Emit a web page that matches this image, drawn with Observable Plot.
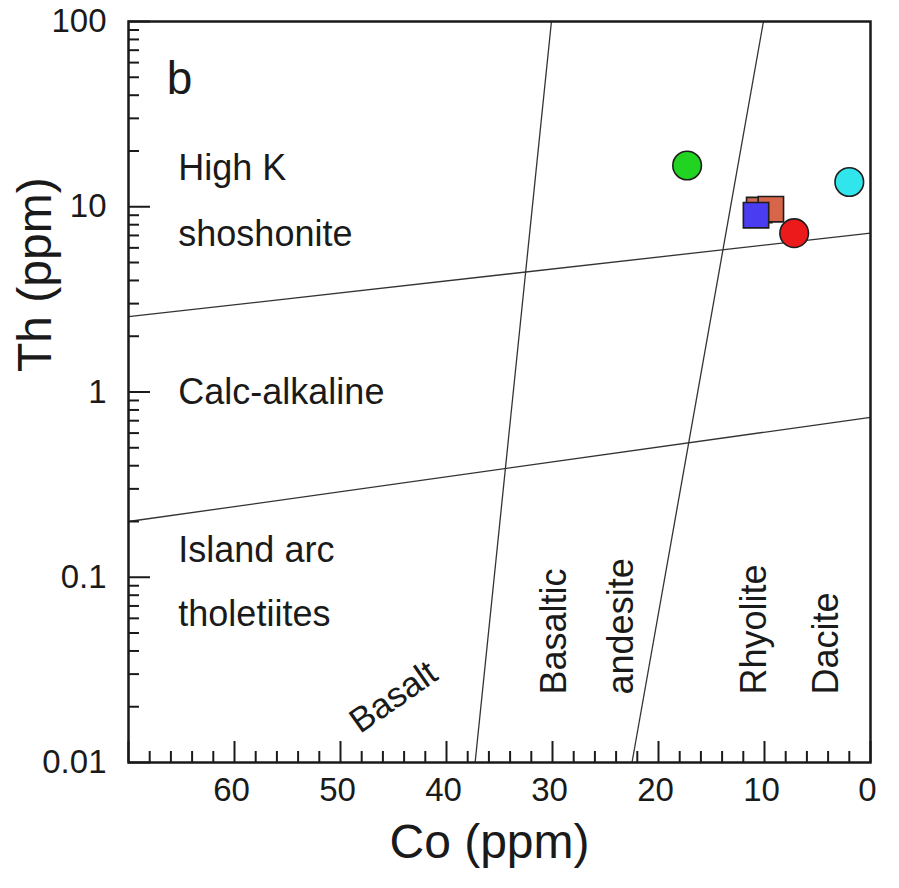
<!DOCTYPE html>
<html><head><meta charset="utf-8">
<script src="https://cdn.jsdelivr.net/npm/d3@7"></script>
<script src="https://cdn.jsdelivr.net/npm/@observablehq/plot@0.6"></script>
<style>body{margin:0;background:#fff;}</style>
</head><body><div id="chart"></div>
<script>
// Samples (Co ppm, Th ppm)
const sampleCo = [17.3, 2.0, 10.5, 9.4, 10.8, 7.2];
const sampleTh = [16.7, 13.6, 9.6, 9.7, 9.0, 7.2];
const sampleSymbol = ["circle", "circle", "square", "square", "square", "circle"];
const sampleFill = ["#22d422", "#30e6ec", "#cf6a52", "#d6654a", "#4a3cf0", "#ec1a1a"];

// Field boundaries
const boundaryCoStart = [70, 70, 30.1, 10.1];
const boundaryThStart = [2.55, 0.2, 100, 100];
const boundaryCoEnd = [0, 0, 37.3, 22.5];
const boundaryThEnd = [7.2, 0.73, 0.01, 0.01];

// Field labels
const fieldLabels = ["High K", "shoshonite", "Calc-alkaline", "Island arc", "tholetiites"];
const fieldCo = [65.3, 65.3, 65.3, 65.3, 65.3];
const fieldTh = [16.0, 7.06, 1.0, 0.14, 0.063];

const panelLabel = ["b"];
const panelCo = [66.4];
const panelTh = [48.6];

const rockLabels = ["Basaltic", "andesite", "Rhyolite", "Dacite"];
const rockCo = [29.8, 23.5, 10.9, 4.2];
const rockTh = [0.0233, 0.0233, 0.0233, 0.0233];

const basaltLabel = ["Basalt"];
const basaltCo = [45.0];
const basaltTh = [0.0225];

// Ticks
const xMajorTicks = [0, 10, 20, 30, 40, 50, 60, 70];
const xMinorTicks = [2, 4, 6, 8, 12, 14, 16, 18, 22, 24, 26, 28, 32, 34, 36, 38, 42, 44, 46, 48, 52, 54, 56, 58, 62, 64, 66, 68];
const xLabelValues = [0, 10, 20, 30, 40, 50, 60];
const xTickLabels = ["0", "10", "20", "30", "40", "50", "60"];
const yMajorTicks = [0.01, 0.1, 1, 10, 100];
const yMinorTicks = [0.02, 0.03, 0.04, 0.05, 0.06, 0.07, 0.08, 0.09,
  0.2, 0.3, 0.4, 0.5, 0.6, 0.7, 0.8, 0.9,
  2, 3, 4, 5, 6, 7, 8, 9,
  20, 30, 40, 50, 60, 70, 80, 90];
const yTickLabels = ["0.01", "0.1", "1", "10", "100"];

const xTitle = "Co (ppm)";
const yTitle = "Th (ppm)";

const samples = sampleCo.map((c, i) => ({co: c, th: sampleTh[i], symbol: sampleSymbol[i], fill: sampleFill[i]}));
const boundaries = boundaryCoStart.map((c, i) => ({x1: c, y1: boundaryThStart[i], x2: boundaryCoEnd[i], y2: boundaryThEnd[i]}));

const W = 899, H = 888, ML = 128, MR = 29, MT = 21, MB = 126;
const innerW = W - ML - MR, innerH = H - MT - MB;
const font = "'Liberation Sans', Arial, sans-serif";
const ink = "#1a1a1a";

const chart = Plot.plot({
  width: W, height: H,
  marginLeft: ML, marginRight: MR, marginTop: MT, marginBottom: MB,
  style: {fontFamily: font, background: "#fff"},
  x: {domain: [70, 0], axis: null},
  y: {type: "log", domain: [0.01, 100], axis: null},
  color: {type: "identity"},
  symbol: {type: "identity"},
  marks: [
    Plot.link(boundaries, {x1: "x1", y1: "y1", x2: "x2", y2: "y2", stroke: "#333", strokeWidth: 1.3}),
    // ticks (inward)
    Plot.tickY(yMajorTicks, {y: d => d, insetRight: innerW - 22, stroke: ink, strokeWidth: 2}),
    Plot.tickY(yMinorTicks, {y: d => d, insetRight: innerW - 11, stroke: ink, strokeWidth: 2}),
    Plot.tickX(xMajorTicks, {x: d => d, insetTop: innerH - 21, stroke: ink, strokeWidth: 2}),
    Plot.tickX(xMinorTicks, {x: d => d, insetTop: innerH - 11, stroke: ink, strokeWidth: 2}),
    Plot.frame({stroke: ink, strokeWidth: 2.5}),
    // tick labels
    Plot.text(xLabelValues, {x: d => d, text: (d, i) => xTickLabels[i], frameAnchor: "bottom", dx: -3, dy: 38, fontSize: 33, fill: ink}),
    Plot.text(yMajorTicks, {y: d => d, text: (d, i) => yTickLabels[i], frameAnchor: "left", dx: -22, textAnchor: "end", fontSize: 33, fill: ink}),
    // axis titles
    Plot.text([xTitle], {frameAnchor: "bottom", dx: -10, dy: 95, fontSize: 48, fill: ink}),
    Plot.text([yTitle], {frameAnchor: "left", dx: -93, dy: -20, rotate: -90, fontSize: 48, fill: ink}),
    // field labels
    Plot.text(panelLabel, {x: (d, i) => panelCo[i], y: (d, i) => panelTh[i], text: d => d, textAnchor: "start", fontSize: 46, fill: ink}),
    Plot.text(fieldLabels, {x: (d, i) => fieldCo[i], y: (d, i) => fieldTh[i], text: d => d, textAnchor: "start", fontSize: 36, fill: ink}),
    Plot.text(rockLabels, {x: (d, i) => rockCo[i], y: (d, i) => rockTh[i], text: d => d, textAnchor: "start", rotate: -90, fontSize: 36, fill: ink}),
    Plot.text(basaltLabel, {x: (d, i) => basaltCo[i], y: (d, i) => basaltTh[i], text: d => d, textAnchor: "middle", rotate: -35, fontSize: 35, fill: ink}),
    // samples
    Plot.dot(samples, {x: "co", y: "th", symbol: "symbol", fill: "fill", r: 14.3, stroke: "#1e1e1e", strokeWidth: 1.6})
  ]
});
document.getElementById("chart").appendChild(chart);
</script>
</body></html>
